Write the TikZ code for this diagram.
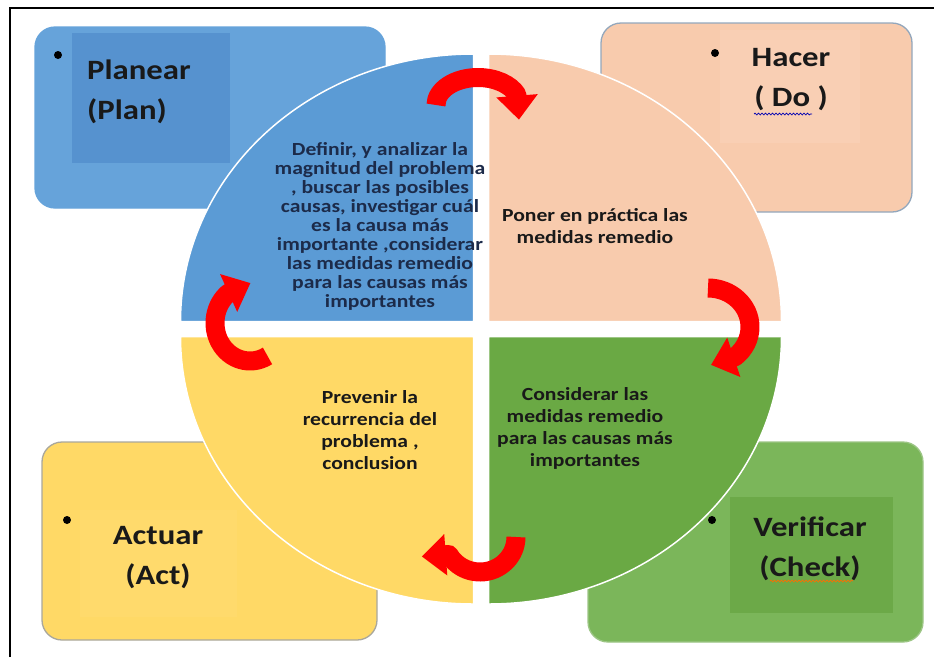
\documentclass[tikz,border=0pt]{standalone}
\usepackage{fontspec}
\setmainfont{Carlito}[FakeStretch=1.17]
\usetikzlibrary{arrows.meta,decorations.pathmorphing}
\definecolor{planfill}{HTML}{66A3DA}
\definecolor{planin}{HTML}{5692CF}
\definecolor{planq}{HTML}{5B9BD5}
\definecolor{dofill}{HTML}{F8CBAD}
\definecolor{doin}{HTML}{F9CFB4}
\definecolor{doline}{HTML}{93A7BC}
\definecolor{actfill}{HTML}{FFD966}
\definecolor{actin}{HTML}{FFDA6C}
\definecolor{actline}{HTML}{A9A79C}
\definecolor{checkfill}{HTML}{7BB65A}
\definecolor{checkin}{HTML}{6CA948}
\definecolor{checkq}{HTML}{6AA944}
\definecolor{checkline}{HTML}{9CC585}
\definecolor{navytext}{HTML}{1C2B4A}
\definecolor{cyclered}{HTML}{FF0000}
\tikzset{
    box/.style={
    rounded corners=20pt,line width=1.3pt
    },
    quad/.style={
    draw=white,line width=1.5pt
    },
    bullet/.style={
    circle,fill=black,inner sep=0pt,minimum size=8pt
    },
    title/.style={
    font=\bfseries\fontsize{28}{40}\selectfont,text=black!90,inner sep=0pt
    },
    quadtext/.style={
    font=\bfseries\fontsize{18.5}{22}\selectfont,align=center,inner sep=0pt,text=black!90
    },
    cyclearrow/.style={
    draw=cyclered,line width=19pt,line join=round,-{Triangle[width=40pt,length=24pt]}
    },
    squiggle/.style={
    decorate,decoration={snake,amplitude=0.9pt,segment length=3.5pt},line width=0.7pt
    },
}

\begin{document}
\begin{tikzpicture}[x=1pt,y=-1pt]
   \useasboundingbox (0,0) rectangle (934,657);
   \draw[line width=2pt] (10,657) -- (10,8) -- (934,8);

   \draw[box,fill=planfill,draw=planfill] (35,27) rectangle (385,208);
   \fill[planin] (72,33) rectangle (230,163);
   \draw[box,fill=dofill,draw=doline] (601,23) rectangle (912,212);
   \fill[doin] (720,30) rectangle (860,143);
   \draw[box,fill=actfill,draw=actline] (42,442) rectangle (377,640);
   \fill[actin] (80,510) rectangle (237,617);
   \draw[box,fill=checkfill,draw=checkline] (588,442) rectangle (923,642);
   \fill[checkin] (730,497) rectangle (893,613);

   \node[bullet] (planbul) at (58,55) {};
   \node[bullet] (dobul) at (715,53) {};
   \node[bullet] (actbul) at (67,520) {};
   \node[bullet] (checkbul) at (712,520) {};

   \node[title,anchor=west,align=left] (plan) at (87,92) {Planear\\(Plan)};
   \node[title,align=center] (do) at (791,80) {Hacer\\( Do )};
   \node[title,align=center] (act) at (158,558) {Actuar\\(Act)};
   \node[title,align=center] (check) at (810,549) {Verificar\\(Check)};
   \draw[squiggle,blue!70!black] (754,114) -- (812,114);
   \draw[squiggle,orange!85!red] (770,581) -- (853,581);

   \draw[quad,fill=planq] (473.5,321.5) -- ++(-293,0)
      arc[start angle=180,end angle=270,x radius=293,y radius=267.5] -- cycle;
   \draw[quad,fill=dofill] (488.5,321.5) -- ++(0,-267.5)
      arc[start angle=270,end angle=360,x radius=293,y radius=267.5] -- cycle;
   \draw[quad,fill=checkq] (488.5,336.5) -- ++(293,0)
      arc[start angle=0,end angle=90,x radius=293,y radius=267.5] -- cycle;
   \draw[quad,fill=actfill] (473.5,336.5) -- ++(0,267.5)
      arc[start angle=90,end angle=180,x radius=293,y radius=267.5] -- cycle;

   \node[quadtext,font=\bfseries\fontsize{18.5}{19}\selectfont,text=navytext] (plantxt) at (380,226)
      {Definir, y analizar la\\magnitud del problema\\, buscar las posibles\\causas, investigar cuál\\es la causa más\\importante ,considerar\\las medidas remedio\\para las causas más\\importantes};
   \node[quadtext] (dotxt) at (595,226) {Poner en práctica las\\medidas remedio};
   \node[quadtext] (checktxt) at (585,428) {Considerar las\\medidas remedio\\para las causas más\\importantes};
   \node[quadtext] (acttxt) at (370,430) {Prevenir la\\recurrencia del\\problema ,\\conclusion};

   \draw[cyclearrow] (436,105) arc[start angle=180,end angle=338,x radius=42,y radius=27.5] -- ++(2,25);
   \draw[cyclearrow] (708,288) arc[start angle=-90,end angle=50,x radius=42,y radius=39] -- ++(-24,8);
   \draw[cyclearrow] (516,537) arc[start angle=0,end angle=150,x radius=36,y radius=35] -- ++(-27,2);
   \draw[cyclearrow] (267.5,355.9) arc[start angle=60,end angle=232,x radius=35,y radius=38] -- ++(22,-10);
\end{tikzpicture}
\end{document}
